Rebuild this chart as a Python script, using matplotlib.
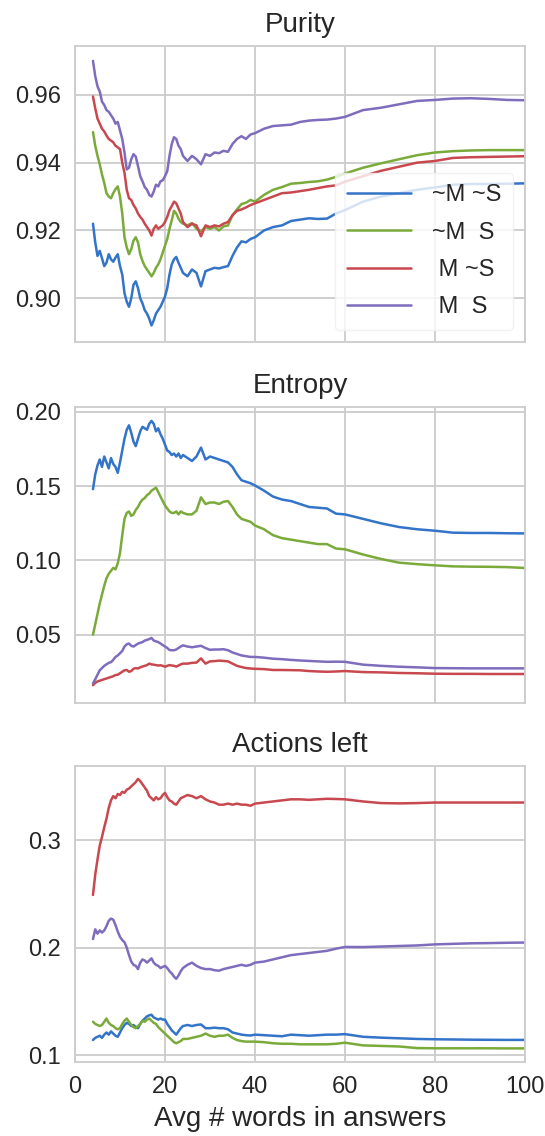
import matplotlib
matplotlib.use("Agg")
import matplotlib.pyplot as plt
import seaborn as sns

# shared x values (avg # words in answers)
avg_words = [4, 4.5, 5, 5.5, 6, 6.5, 7, 7.5, 8,
             8.5, 9, 9.5, 10, 10.5, 11, 11.5, 12, 12.5,
             13, 13.5, 14, 14.5, 15, 15.5, 16, 16.5, 17,
             17.5, 18, 18.5, 19, 19.5, 20, 20.5, 21, 21.5,
             22, 22.5, 23, 23.5, 24,
             25, 26, 27, 28, 29, 30, 31, 32,
             33, 34, 35, 36, 37, 38, 39, 40,
             42, 44, 46, 48, 50, 52, 54, 56, 58, 60,
             64, 68, 72, 76, 80, 84, 88, 92, 96, 100]

labels = ["~M ~S", "~M  S", " M ~S", " M  S"]
colors = ["#3474c8", "#7aab3a", "#c8484f", "#7f6cbd"]

# --- Purity ---
purity_nm_ns = [0.9220, 0.9165, 0.9125, 0.9140, 0.9118, 0.9095, 0.9105, 0.9130, 0.9115,
                0.9108, 0.9120, 0.9130, 0.9095, 0.9070, 0.9015, 0.8990, 0.8975, 0.9000,
                0.9040, 0.9050, 0.9030, 0.9000, 0.8985, 0.8965, 0.8955, 0.8940, 0.8920,
                0.8935, 0.8955, 0.8965, 0.8975, 0.8990, 0.9005, 0.9030, 0.9070, 0.9100,
                0.9115, 0.9122, 0.9105, 0.9090, 0.9075,
                0.9065, 0.9085, 0.9075, 0.9035, 0.9080, 0.9085, 0.9090, 0.9088,
                0.9092, 0.9095, 0.9125, 0.9150, 0.9168, 0.9165, 0.9175, 0.9180,
                0.9200, 0.9210, 0.9215, 0.9228, 0.9232, 0.9236, 0.9234, 0.9235, 0.9250, 0.9260,
                0.9285, 0.9300, 0.9310, 0.9320, 0.9327, 0.9335, 0.9337, 0.9337, 0.9338, 0.9339]
purity_nm_s = [0.9490, 0.9450, 0.9420, 0.9395, 0.9365, 0.9340, 0.9310, 0.9300, 0.9295,
               0.9310, 0.9322, 0.9330, 0.9300, 0.9250, 0.9180, 0.9150, 0.9130, 0.9145,
               0.9170, 0.9180, 0.9165, 0.9130, 0.9110, 0.9095, 0.9085, 0.9075, 0.9065,
               0.9075, 0.9090, 0.9100, 0.9115, 0.9135, 0.9155, 0.9175, 0.9205, 0.9230,
               0.9258, 0.9250, 0.9235, 0.9225, 0.9220,
               0.9215, 0.9222, 0.9205, 0.9198, 0.9210, 0.9205, 0.9210, 0.9200,
               0.9212, 0.9215, 0.9245, 0.9262, 0.9278, 0.9282, 0.9290, 0.9285,
               0.9305, 0.9320, 0.9328, 0.9338, 0.9340, 0.9343, 0.9345, 0.9350, 0.9358, 0.9368,
               0.9385, 0.9398, 0.9410, 0.9422, 0.9430, 0.9434, 0.9436, 0.9437, 0.9437, 0.9437]
purity_m_ns = [0.9595, 0.9560, 0.9530, 0.9515, 0.9500, 0.9492, 0.9480, 0.9470, 0.9465,
               0.9460, 0.9450, 0.9445, 0.9440, 0.9400, 0.9370, 0.9320, 0.9295, 0.9290,
               0.9275, 0.9265, 0.9250, 0.9240, 0.9232, 0.9220, 0.9210, 0.9200, 0.9185,
               0.9205, 0.9215, 0.9205, 0.9210, 0.9215, 0.9225, 0.9240, 0.9260, 0.9272,
               0.9285, 0.9280, 0.9265, 0.9250, 0.9225,
               0.9210, 0.9220, 0.9215, 0.9183, 0.9215, 0.9210, 0.9215, 0.9212,
               0.9220, 0.9225, 0.9245, 0.9258, 0.9262, 0.9268, 0.9275, 0.9280,
               0.9290, 0.9300, 0.9310, 0.9312, 0.9316, 0.9320, 0.9325, 0.9330, 0.9333, 0.9344,
               0.9360, 0.9376, 0.9388, 0.9400, 0.9405, 0.9414, 0.9416, 0.9417, 0.9418, 0.9419]
purity_m_s = [0.9700, 0.9655, 0.9625, 0.9610, 0.9580, 0.9570, 0.9555, 0.9550, 0.9540,
              0.9530, 0.9515, 0.9520, 0.9495, 0.9470, 0.9430, 0.9380, 0.9385, 0.9410,
              0.9425, 0.9418, 0.9390, 0.9360, 0.9345, 0.9328, 0.9320, 0.9305, 0.9300,
              0.9315, 0.9335, 0.9330, 0.9345, 0.9348, 0.9360, 0.9375, 0.9420, 0.9455,
              0.9475, 0.9470, 0.9450, 0.9440, 0.9420,
              0.9405, 0.9420, 0.9410, 0.9395, 0.9425, 0.9420, 0.9430, 0.9428,
              0.9435, 0.9432, 0.9455, 0.9470, 0.9478, 0.9470, 0.9483, 0.9487,
              0.9500, 0.9508, 0.9510, 0.9512, 0.9520, 0.9524, 0.9526, 0.9527, 0.9530, 0.9535,
              0.9555, 0.9562, 0.9572, 0.9582, 0.9585, 0.9589, 0.9590, 0.9588, 0.9585, 0.9584]

# --- Entropy ---
entropy_nm_ns = [0.148, 0.158, 0.164, 0.168, 0.163, 0.170, 0.166, 0.162, 0.169,
                 0.165, 0.163, 0.159, 0.166, 0.174, 0.182, 0.188, 0.191, 0.186,
                 0.180, 0.177, 0.182, 0.187, 0.190, 0.189, 0.188, 0.192, 0.194,
                 0.192, 0.187, 0.189, 0.185, 0.182, 0.178, 0.174, 0.173, 0.171,
                 0.172, 0.170, 0.172, 0.169, 0.171,
                 0.169, 0.167, 0.170, 0.176, 0.168, 0.170, 0.169, 0.168,
                 0.167, 0.166, 0.163, 0.158, 0.154, 0.153, 0.152, 0.1505,
                 0.147, 0.143, 0.141, 0.140, 0.138, 0.136, 0.1355, 0.135, 0.1315, 0.131,
                 0.128, 0.125, 0.1225, 0.121, 0.120, 0.1187, 0.1185, 0.1185, 0.1183, 0.1182]
entropy_nm_s = [0.050, 0.057, 0.064, 0.071, 0.077, 0.083, 0.088, 0.091, 0.093,
                0.095, 0.094, 0.098, 0.105, 0.117, 0.128, 0.132, 0.133, 0.130,
                0.131, 0.134, 0.136, 0.139, 0.141, 0.142, 0.144, 0.145, 0.147,
                0.148, 0.149, 0.146, 0.143, 0.140, 0.137, 0.135, 0.133, 0.132,
                0.132, 0.133, 0.131, 0.133, 0.132,
                0.131, 0.131, 0.1335, 0.1425, 0.138, 0.139, 0.139, 0.138,
                0.1395, 0.140, 0.136, 0.131, 0.128, 0.127, 0.126, 0.1235,
                0.121, 0.117, 0.115, 0.114, 0.113, 0.112, 0.111, 0.111, 0.108, 0.1075,
                0.104, 0.101, 0.0985, 0.0975, 0.0967, 0.096, 0.0958, 0.0957, 0.0955, 0.0949]
entropy_m_ns = [0.016, 0.0175, 0.0185, 0.019, 0.0195, 0.020, 0.0205, 0.021, 0.0215,
                0.022, 0.0228, 0.023, 0.024, 0.025, 0.026, 0.0262, 0.025, 0.0255,
                0.027, 0.0275, 0.0272, 0.028, 0.0285, 0.029, 0.0295, 0.0305, 0.030,
                0.0298, 0.0295, 0.0292, 0.0294, 0.029, 0.0284, 0.029, 0.0295, 0.0292,
                0.029, 0.0285, 0.0292, 0.030, 0.0305,
                0.0305, 0.031, 0.0312, 0.034, 0.0305, 0.032, 0.0322, 0.0325,
                0.0323, 0.032, 0.0305, 0.029, 0.0282, 0.0275, 0.0272, 0.027,
                0.0268, 0.0262, 0.0262, 0.0261, 0.026, 0.0255, 0.0252, 0.025, 0.0252, 0.0255,
                0.0248, 0.0246, 0.0242, 0.024, 0.0237, 0.0236, 0.0236, 0.0235, 0.0235, 0.0235]
entropy_m_s = [0.0172, 0.020, 0.023, 0.026, 0.0275, 0.029, 0.030, 0.031, 0.0315,
               0.033, 0.035, 0.036, 0.0375, 0.039, 0.042, 0.0435, 0.044, 0.0425,
               0.042, 0.043, 0.044, 0.0445, 0.045, 0.046, 0.0465, 0.047, 0.0478,
               0.046, 0.0455, 0.045, 0.044, 0.043, 0.042, 0.041, 0.0397, 0.0395,
               0.0395, 0.040, 0.041, 0.042, 0.0428,
               0.042, 0.0415, 0.042, 0.0425, 0.041, 0.0398, 0.040, 0.040,
               0.0402, 0.0395, 0.038, 0.037, 0.036, 0.0355, 0.035, 0.035,
               0.0345, 0.0338, 0.0335, 0.033, 0.0326, 0.0323, 0.032, 0.0317, 0.0318, 0.0317,
               0.0298, 0.029, 0.0284, 0.028, 0.0275, 0.0274, 0.0273, 0.0273, 0.0273, 0.0273]

# --- Actions left ---
actions_nm_ns = [0.114, 0.116, 0.117, 0.118, 0.116, 0.119, 0.121, 0.119, 0.122,
                 0.120, 0.118, 0.117, 0.121, 0.125, 0.128, 0.130, 0.129, 0.127,
                 0.128, 0.126, 0.125, 0.129, 0.132, 0.134, 0.136, 0.137, 0.1375,
                 0.135, 0.134, 0.133, 0.134, 0.133, 0.133, 0.129, 0.126, 0.123,
                 0.121, 0.119, 0.122, 0.125, 0.127,
                 0.128, 0.127, 0.128, 0.1285, 0.125, 0.125, 0.1255, 0.125,
                 0.125, 0.124, 0.121, 0.120, 0.119, 0.1185, 0.1182, 0.119,
                 0.1185, 0.118, 0.1175, 0.119, 0.1185, 0.118, 0.1185, 0.119, 0.119, 0.1195,
                 0.117, 0.1162, 0.1156, 0.115, 0.1147, 0.1145, 0.1143, 0.1142, 0.1141, 0.1141]
actions_nm_s = [0.131, 0.129, 0.128, 0.127, 0.128, 0.131, 0.134, 0.130, 0.128,
                0.127, 0.125, 0.124, 0.125, 0.129, 0.132, 0.134, 0.131, 0.128,
                0.126, 0.125, 0.127, 0.129, 0.132, 0.131, 0.133, 0.134, 0.132,
                0.130, 0.129, 0.126, 0.124, 0.122, 0.120, 0.118, 0.116, 0.114,
                0.112, 0.111, 0.112, 0.113, 0.115,
                0.115, 0.116, 0.117, 0.118, 0.120, 0.118, 0.117, 0.118,
                0.118, 0.119, 0.116, 0.114, 0.113, 0.1125, 0.1125, 0.1125,
                0.112, 0.111, 0.1105, 0.1105, 0.110, 0.110, 0.110, 0.110, 0.1105, 0.1115,
                0.109, 0.1085, 0.108, 0.1065, 0.1063, 0.1063, 0.1063, 0.1063, 0.1062, 0.1062]
actions_m_ns = [0.249, 0.268, 0.282, 0.295, 0.303, 0.312, 0.320, 0.330, 0.337,
                0.341, 0.339, 0.343, 0.342, 0.345, 0.344, 0.347, 0.348, 0.350,
                0.352, 0.354, 0.357, 0.355, 0.352, 0.349, 0.346, 0.341, 0.339,
                0.337, 0.340, 0.338, 0.339, 0.342, 0.344, 0.340, 0.337, 0.336,
                0.334, 0.333, 0.336, 0.339, 0.340,
                0.342, 0.341, 0.339, 0.341, 0.338, 0.336, 0.335, 0.333,
                0.333, 0.334, 0.333, 0.334, 0.333, 0.333, 0.332, 0.334,
                0.335, 0.336, 0.337, 0.338, 0.338, 0.3375, 0.338, 0.3385, 0.3383, 0.338,
                0.336, 0.3345, 0.3342, 0.3345, 0.335, 0.335, 0.335, 0.335, 0.335, 0.335]
actions_m_s = [0.208, 0.217, 0.213, 0.216, 0.214, 0.216, 0.220, 0.225, 0.227,
               0.226, 0.221, 0.215, 0.210, 0.207, 0.205, 0.200, 0.193, 0.187,
               0.184, 0.183, 0.180, 0.186, 0.189, 0.188, 0.186, 0.188, 0.190,
               0.186, 0.184, 0.183, 0.181, 0.182, 0.183, 0.181, 0.178, 0.176,
               0.173, 0.171, 0.174, 0.178, 0.181,
               0.184, 0.186, 0.183, 0.181, 0.180, 0.180, 0.179, 0.1785,
               0.180, 0.181, 0.182, 0.183, 0.184, 0.183, 0.184, 0.186,
               0.187, 0.189, 0.191, 0.193, 0.194, 0.195, 0.196, 0.197, 0.199, 0.2006,
               0.2005, 0.201, 0.2015, 0.202, 0.203, 0.2035, 0.204, 0.2042, 0.2045, 0.2047]

panels = [
    ("Purity", [purity_nm_ns, purity_nm_s, purity_m_ns, purity_m_s],
     (0.8871, 0.9744), [0.90, 0.92, 0.94, 0.96], "{:.2f}"),
    ("Entropy", [entropy_nm_ns, entropy_nm_s, entropy_m_ns, entropy_m_s],
     (0.004, 0.2034), [0.05, 0.10, 0.15, 0.20], "{:.2f}"),
    ("Actions left", [actions_nm_ns, actions_nm_s, actions_m_ns, actions_m_s],
     (0.0935, 0.369), [0.1, 0.2, 0.3], "{:.1f}"),
]

sns.set_style("whitegrid")
plt.rcParams["font.family"] = ["Liberation Sans", "DejaVu Sans"]
plt.rcParams["text.color"] = ".15"
plt.rcParams["xtick.color"] = ".15"
plt.rcParams["ytick.color"] = ".15"

fig = plt.figure(figsize=(5.45, 11.36), dpi=100)
# axes boxes in figure fractions: left, bottom, width, height
boxes = [(0.1376, 0.6989, 0.8257, 0.2606),
         (0.1376, 0.3812, 0.8257, 0.2606),
         (0.1376, 0.0651, 0.8257, 0.2606)]

axes = []
for i, (title, series, ylim, yticks, fmt) in enumerate(panels):
    ax = fig.add_axes(boxes[i], sharex=axes[0] if axes else None)
    for vals, lab, col in zip(series, labels, colors):
        ax.plot(avg_words, vals, color=col, lw=1.8, label=lab)
    ax.set_title(title, fontsize=20, pad=10)
    ax.set_ylim(*ylim)
    ax.set_yticks(yticks)
    ax.set_yticklabels([fmt.format(t) for t in yticks])
    ax.set_xlim(0, 100)
    ax.set_xticks([0, 20, 40, 60, 80, 100])
    ax.tick_params(labelsize=17, length=0, pad=10)
    for sp in ax.spines.values():
        sp.set_color(".8")
        sp.set_linewidth(1.3)
    ax.grid(color=".8", linewidth=1.3)
    if i < 2:
        plt.setp(ax.get_xticklabels(), visible=False)
    axes.append(ax)

leg = axes[0].legend(loc="lower right", fontsize=17, frameon=True, framealpha=0.8,
                     handlelength=2.7, handletextpad=0.9, labelspacing=0.65,
                     borderaxespad=0.5, borderpad=0.5)
leg.get_frame().set_edgecolor("#eeeeee")
leg.get_frame().set_facecolor("white")
for h in leg.get_lines():
    h.set_linewidth(1.8)

axes[2].set_xlabel("Avg # words in answers", fontsize=20, labelpad=6)

fig.savefig("out.png", dpi=100)
